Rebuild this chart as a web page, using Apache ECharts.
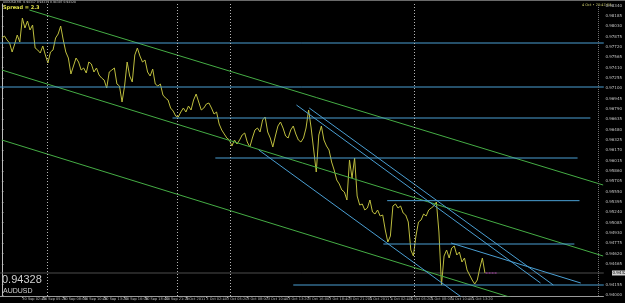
<!DOCTYPE html>
<html>
<head>
<meta charset="utf-8">
<script src="https://cdn.jsdelivr.net/npm/echarts@6/dist/echarts.min.js"></script>
<style>
  html, body { margin: 0; padding: 0; background: #000; }
  #chart { width: 625px; height: 303px; }
</style>
</head>
<body>
<div id="chart"></div>
<script>
  // AUDUSD M5, closes sampled every 4 bars
  const symbol = 'AUDUSD'
  const lastPrice = 0.94328
  const barStep = 4
  const closes = [
    0.97853, 0.97883, 0.97823, 0.97778, 0.97643, 0.97763, 0.97898, 0.97793, 0.98153, 0.98003,
    0.98108, 0.97973, 0.98048, 0.97703, 0.97673, 0.97628, 0.97733, 0.97598, 0.97478, 0.97643,
    0.97673, 0.97853, 0.97913, 0.98033, 0.97823, 0.97643, 0.97553, 0.97313, 0.97433, 0.97553,
    0.97493, 0.97373, 0.97403, 0.97328, 0.97493, 0.97463, 0.97343, 0.97403, 0.97298, 0.97253,
    0.97223, 0.97103, 0.97343, 0.97373, 0.97403, 0.97163, 0.97133, 0.96893, 0.97133, 0.97493,
    0.97283, 0.97193, 0.97598, 0.97703, 0.97583, 0.97493, 0.97523, 0.97343, 0.97283, 0.97388,
    0.97163, 0.97133, 0.97163, 0.96998, 0.96953, 0.96923, 0.96803, 0.96758, 0.96683, 0.96668,
    0.96743, 0.96803, 0.96743, 0.96833, 0.96773, 0.96923, 0.97013, 0.96893, 0.96773, 0.96803,
    0.96863, 0.96878, 0.96803, 0.96713, 0.96743, 0.96563, 0.96473, 0.96413, 0.96353, 0.96323,
    0.96233, 0.96323, 0.96263, 0.96323, 0.96398, 0.96428, 0.96293, 0.96218, 0.96353, 0.96473,
    0.96503, 0.96443, 0.96623, 0.96668, 0.96443, 0.96353, 0.96218, 0.96383, 0.96533, 0.96593,
    0.96503, 0.96383, 0.96353, 0.96473, 0.96533, 0.96413, 0.96323, 0.96293, 0.96353, 0.96503,
    0.96773, 0.96503, 0.96173, 0.95843, 0.96398, 0.96533, 0.96323, 0.96233, 0.96173, 0.95993,
    0.95873, 0.95723, 0.95663, 0.95573, 0.95543, 0.95423, 0.96023, 0.95753, 0.96053, 0.95483,
    0.95348, 0.95363, 0.95273, 0.95303, 0.95423, 0.95243, 0.95213, 0.95273, 0.95183, 0.95198,
    0.94973, 0.94793, 0.94883, 0.95333, 0.95363, 0.95303, 0.95333, 0.95228, 0.95198, 0.95093,
    0.94673, 0.94583, 0.94883, 0.95093, 0.95123, 0.95213, 0.95183, 0.95273, 0.95303, 0.95333,
    0.95393, 0.94943, 0.94148, 0.94583, 0.94673, 0.94553, 0.94703, 0.94733, 0.94598, 0.94643,
    0.94493, 0.94553, 0.94373, 0.94298, 0.94223, 0.94163, 0.94223, 0.94403, 0.94553, 0.94328
  ]

  const xTickBars = [0, 32, 64, 96, 128, 160, 192, 224, 256, 288, 320, 352, 384, 416, 448, 480,
    512, 544, 576, 608, 640, 672, 704, 736]
  const xTickLabels = ['30 Sep 2011', '30 Sep 02:40', '30 Sep 05:20', '30 Sep 08:00', '30 Sep 10:40',
    '30 Sep 13:20', '30 Sep 16:00', '30 Sep 18:40', '30 Sep 21:20', '3 Oct 2011', '3 Oct 02:40',
    '3 Oct 05:20', '3 Oct 08:00', '3 Oct 10:40', '3 Oct 13:20', '3 Oct 16:00', '3 Oct 18:40',
    '3 Oct 21:20', '4 Oct 2011', '4 Oct 02:40', '4 Oct 05:20', '4 Oct 08:00', '4 Oct 10:40', '4 Oct 13:20']
  const yTicks = [0.94000, 0.94155, 0.94465, 0.94620, 0.94775, 0.94930, 0.95085, 0.95240, 0.95395,
    0.95550, 0.95705, 0.95860, 0.96015, 0.96170, 0.96325, 0.96480, 0.96635, 0.96790, 0.96945,
    0.97100, 0.97255, 0.97410, 0.97565, 0.97720, 0.97875, 0.98030, 0.98185, 0.98340]

  // trend lines: [[bar, price], [bar, price]]
  const greenLines = [
    [[43, 0.98273], [941, 0.95648]],
    [[0, 0.97373], [941, 0.94583]],
    [[0, 0.96323], [941, 0.93533]]
  ]
  const blueTrends = [
    [[461, 0.96848], [843, 0.94178]],
    [[481, 0.96803], [863, 0.94148]],
    [[703, 0.94778], [906, 0.94178]],
    [[402, 0.96173], [719, 0.93968]]
  ]
  // horizontal levels: [price, fromBar, toBar]
  const blueLevels = [
    [0.97778, -3, 942], [0.97118, -3, 942], [0.96653, 267, 921], [0.96053, 334, 901],
    [0.95413, 603, 904], [0.94763, 597, 896], [0.94148, 456, 942]
  ]
  const separators = [71, 275, 357, 645]
  const shiftBar = 934
  const askMark = [757, 775]

  const chart = echarts.init(document.getElementById('chart'))

  const segment = (pts, color, z, type) => ({
    type: 'line', data: pts, showSymbol: false, silent: true, z: z,
    lineStyle: {color: color, width: 1, type: type || 'solid'}
  })

  let series = [
    segment([[-3, lastPrice], [942, lastPrice]], '#4d4d4d', 2),
    {
      type: 'line',
      data: closes.map((c, i) => [i * barStep, c]),
      showSymbol: false,
      lineStyle: {color: '#bdbd3e', width: 1},
      z: 3,
      markLine: {
        silent: true,
        symbol: ['none', 'none'],
        animation: false,
        label: {show: false},
        data: separators.map(b => ({xAxis: b, lineStyle: {color: '#b5b5b5', type: [1, 2], width: 1}}))
          .concat([{xAxis: shiftBar, lineStyle: {color: '#707070', type: [1, 1], width: 1}}])
      }
    }
  ]
  greenLines.forEach(l => series.push(segment(l, '#45ad45', 4)))
  blueLevels.forEach(l => series.push(segment([[l[1], l[0]], [l[2], l[0]]], '#4a9fd3', 4)))
  blueTrends.forEach(l => series.push(segment(l, '#4a9fd3', 4)))
  series.push(segment([[askMark[0], lastPrice], [askMark[1], lastPrice]], '#b040b0', 5, [2, 1]))

  let option = {
    backgroundColor: '#000',
    animation: false,
    grid: {left: 0, right: 14, top: 4, bottom: 7},
    xAxis: {
      type: 'value',
      min: -3,
      max: 941.5,
      splitLine: {show: false},
      axisLine: {show: true, lineStyle: {color: '#9a9a9a'}},
      axisTick: {show: true, length: 2, lineStyle: {color: '#9a9a9a'}, customValues: xTickBars},
      axisLabel: {
        customValues: xTickBars,
        formatter: v => xTickLabels[xTickBars.indexOf(v)] || '',
        color: '#bdbdbd', fontSize: 3.5, margin: 1, align: 'left',
        fontFamily: 'DejaVu Sans'
      }
    },
    yAxis: {
      type: 'value',
      position: 'right',
      min: 0.93983,
      max: 0.98363,
      scale: true,
      splitLine: {show: false},
      axisLine: {show: true, lineStyle: {color: '#bdbdbd'}},
      axisTick: {show: true, length: 1.5, lineStyle: {color: '#bdbdbd'}, customValues: yTicks},
      axisLabel: {
        customValues: yTicks,
        formatter: v => v.toFixed(5),
        color: '#c4c4c4', fontSize: 4, margin: 2,
        fontFamily: 'DejaVu Sans'
      }
    },
    graphic: [
      {type: 'rect', shape: {x: 0, y: 0, width: 625, height: 1}, style: {fill: '#6a6a6a'}},
      {type: 'text', left: 3, top: 1, style: {text: symbol + ',M5  0.94317 0.94339 0.94307 0.94328', fill: '#c8c8c8', font: '3px DejaVu Sans'}},
      {type: 'text', left: 3, top: 5, style: {text: 'Spread = 2.3', fill: '#e2e24a', font: 'bold 5px DejaVu Sans'}},
      {type: 'text', left: 582, top: 3.5, style: {text: '4 Oct • 20:47:53', fill: '#c8c86a', font: '3.5px DejaVu Sans'}},
      {type: 'text', left: 2, top: 274, style: {text: lastPrice.toFixed(5), fill: '#cfcfcf', font: '11px Liberation Sans'}},
      {type: 'text', left: 3, top: 288, style: {text: symbol, fill: '#cfcfcf', font: '7px Liberation Sans'}}
    ],
    series: series
  }
  chart.setOption(option)

  // current price box on the price scale
  const py = chart.convertToPixel({yAxisIndex: 0}, lastPrice)
  chart.setOption({
    graphic: option.graphic.concat([
      {type: 'rect', shape: {x: 612, y: py - 2.5, width: 13, height: 5}, style: {fill: '#d2d2d2'}, z: 10},
      {type: 'text', x: 612.5, y: py - 2, style: {text: lastPrice.toFixed(5), fill: '#000', font: '4px DejaVu Sans'}, z: 11}
    ])
  })
</script>
</body>
</html>
